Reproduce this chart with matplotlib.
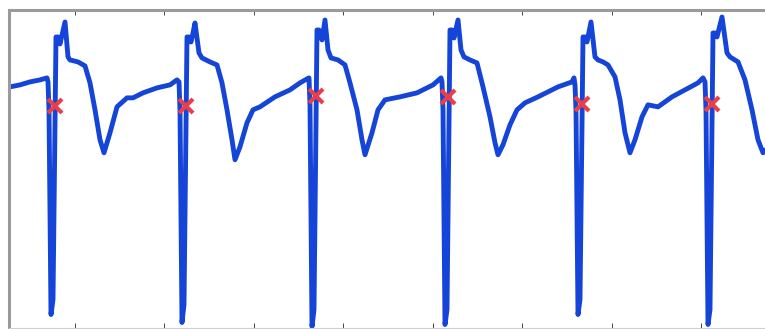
import numpy as np
import matplotlib
matplotlib.use('Agg')
import matplotlib.pyplot as plt


# trace: t = sample index, v = amplitude (mV)
lead_t = [8, 10, 20, 30, 40, 47]
lead_v = [0.12, 0.13, 0.15, 0.18, 0.20, 0.22]

beat1_t = [48, 49, 51, 53, 56, 58, 60, 62, 65, 68, 70, 78, 85, 90, 95, 100, 104,
           110, 117, 127, 133, 143, 157, 170, 177]
beat1_v = [0.18, -0.10, -2.15, -2.00, 0.63, 0.63, 0.56, 0.65, 0.78, 0.43, 0.40, 0.38,
           0.34, 0.17, -0.10, -0.40, -0.53, -0.33, -0.07, 0.02, 0.02, 0.07, 0.12, 0.15, 0.20]

beat2_t = [179, 180, 182, 184, 187, 189, 191, 193, 195, 199, 202, 210, 217, 222, 227,
           232, 235, 240, 247, 253, 260, 275, 290, 300, 307]
beat2_v = [0.18, -0.10, -2.23, -2.05, 0.63, 0.63, 0.58, 0.67, 0.77, 0.47, 0.42, 0.38,
           0.35, 0.17, -0.10, -0.40, -0.60, -0.47, -0.23, -0.10, -0.07, 0.03, 0.10, 0.17, 0.21]

beat3_t = [309, 310, 312, 314, 317, 319, 320, 322, 325, 328, 331, 338, 345, 350, 357,
           362, 365, 372, 378, 385, 400, 417, 433, 441]
beat3_v = [0.22, -0.05, -2.27, -2.10, 0.70, 0.70, 0.68, 0.60, 0.80, 0.50, 0.42, 0.40,
           0.35, 0.17, -0.10, -0.40, -0.55, -0.33, -0.10, 0.00, 0.03, 0.07, 0.15, 0.22]

beat4_t = [442, 443, 445, 447, 450, 452, 454, 458, 461, 464, 470, 477, 483, 490, 495,
           498, 503, 510, 517, 525, 538, 548, 558, 572, 574]
beat4_v = [0.18, -0.10, -2.25, -2.10, 0.70, 0.70, 0.62, 0.80, 0.50, 0.43, 0.40, 0.37,
           0.13, -0.17, -0.43, -0.55, -0.45, -0.25, -0.10, -0.03, 0.03, 0.08, 0.13, 0.18, 0.22]

beat5_t = [575, 576, 578, 580, 583, 585, 587, 591, 595, 598, 603, 608, 615, 620, 625,
           630, 635, 642, 648, 658, 672, 685, 698, 703]
beat5_v = [0.15, -0.10, -2.15, -2.00, 0.63, 0.63, 0.58, 0.78, 0.43, 0.40, 0.38, 0.35,
           0.23, 0.00, -0.33, -0.53, -0.40, -0.17, -0.05, -0.07, 0.03, 0.10, 0.17, 0.22]

beat6_t = [705, 706, 708, 710, 713, 715, 717, 722, 727, 730, 738, 745, 752, 758, 763, 766]
beat6_v = [0.18, -0.10, -2.25, -2.10, 0.67, 0.67, 0.63, 0.83, 0.47, 0.43, 0.38, 0.20,
           -0.10, -0.40, -0.53, -0.50]

# detected points (red crosses)
mark_t = [55, 186, 316, 448, 582, 712]
mark_v = [-0.06, -0.06, 0.04, 0.03, -0.04, -0.04]

tick_pos = [75, 164, 254, 343, 433, 522, 612, 701]

t = lead_t + beat1_t + beat2_t + beat3_t + beat4_t + beat5_t + beat6_t
v = lead_v + beat1_v + beat2_v + beat3_v + beat4_v + beat5_v + beat6_v

fig = plt.figure(figsize=(7.65, 3.29), dpi=100)
ax = fig.add_axes([8.5/765, 1.5/329, 1 - 8.5/765, 1 - 11.5/329])

ax.plot(t, v, color='#1545d8', linewidth=3.5, solid_joinstyle='round')
ax.plot(mark_t, mark_v, linestyle='none', marker='x', color='#e8404a',
        markersize=9.5, markeredgewidth=3.0)

ax.set_xlim(8.5, 765)
ax.set_ylim(-2.28, 0.90)

ax.set_xticks(tick_pos)
ax.set_yticks([])
ax.tick_params(axis='x', direction='in', top=True, bottom=True,
               labelbottom=False, length=3.6, width=0.7, color='#444444')

for side in ['top', 'left']:
    ax.spines[side].set_color('#9a9a9a')
    ax.spines[side].set_linewidth(2.2)
ax.spines['bottom'].set_color('#cfcfcf')
ax.spines['bottom'].set_linewidth(0.8)
ax.spines['right'].set_visible(False)

fig.savefig('out.png', dpi=100)
